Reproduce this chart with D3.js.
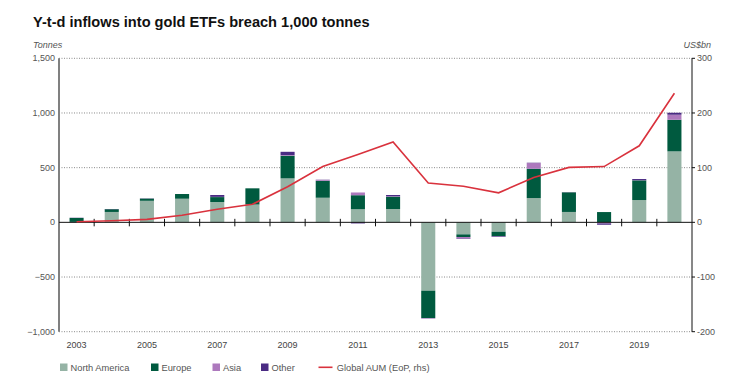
<!DOCTYPE html>
<html>
<head>
<meta charset="utf-8">
<style>
    body {
        margin: 0;
        background: #fff;
        font-family: "Liberation Sans", Arial, sans-serif;
    }
    svg {
        display: block;
    }
    .title {
        font-size: 14.6px;
        font-weight: bold;
        fill: #111;
    }
    .unit {
        font-size: 9px;
        font-style: italic;
        fill: #555;
    }
    .tick-label {
        font-size: 9px;
        fill: #555;
    }
    .year-label {
        font-size: 9px;
        fill: #444;
        text-anchor: middle;
    }
    .grid {
        stroke: #8a8a8a;
        stroke-width: 1;
        stroke-dasharray: 1,1.5;
    }
    .legend-label {
        font-size: 9.3px;
        fill: #555;
    }
</style>
</head>
<body>
<script src="https://cdn.jsdelivr.net/npm/d3@7"></script>
<script>

    // tonnes, by region
    var years = [2003, 2004, 2005, 2006, 2007, 2008, 2009, 2010, 2011,
                 2012, 2013, 2014, 2015, 2016, 2017, 2018, 2019, 2020];
    var northAmerica = [4, 95, 197, 216, 186, 163, 402, 225, 120,
                        122, -625, -110, -86, 222, 95, 2, 204, 649];
    var europe = [36, 25, 20, 43, 45, 148, 207, 155, 128,
                  112, -250, -24, -40, 268, 180, 92, 180, 289];
    var asia = [0, 0, 0, 0, 2, 0, 6, 8, 25,
                4, -3, -14, -3, 52, 2, -10, 2, 46];
    var other = [2, 2, 2, 0, 17, 0, 30, 2, -10,
                 12, -2, -4, -5, 3, 0, -12, 10, 18];
    // US$bn, end of period
    var globalAum = [1, 3, 5.5, 13, 24, 33, 65, 102, 124,
                     147, 72, 66, 54, 82, 100.5, 102, 140, 236];

    var leftTicks = [-1000, -500, 0, 500, 1000, 1500];
    var rightTicks = [-200, -100, 0, 100, 200, 300];
    var yearLabels = [2003, 2005, 2007, 2009, 2011, 2013, 2015, 2017, 2019];

    var seriesNames = ["North America", "Europe", "Asia", "Other"];
    var seriesColors = ["#95b3a5", "#005a3f", "#ad79bd", "#4a2b83"];
    var lineColor = "#d9323d";

    var width = 750,
        height = 376,
        plotLeft = 59,
        plotRight = 692,
        plotTop = 58.3,
        plotBottom = 331.7;

    var rows = years.map(function(y, i) {
        return {year: y, "North America": northAmerica[i], "Europe": europe[i],
                "Asia": asia[i], "Other": other[i]};
    });

    var x = d3.scaleBand()
        .domain(years)
        .range([plotLeft, plotRight])
        .paddingInner(0.6)
        .paddingOuter(0.3);

    var yLeft = d3.scaleLinear()
        .domain([-1000, 1500])
        .range([plotBottom, plotTop]);

    var yRight = d3.scaleLinear()
        .domain([-200, 300])
        .range([plotBottom, plotTop]);

    var svg = d3.select("body").append("svg")
        .attr("width", width)
        .attr("height", height);

    svg.append("text")
        .attr("class", "title")
        .attr("x", 33)
        .attr("y", 26.5)
        .text("Y-t-d inflows into gold ETFs breach 1,000 tonnes");

    svg.append("text")
        .attr("class", "unit")
        .attr("x", 33)
        .attr("y", 48)
        .text("Tonnes");

    svg.append("text")
        .attr("class", "unit")
        .attr("x", 711)
        .attr("y", 48)
        .attr("text-anchor", "end")
        .text("US$bn");

    // dotted gridlines
    svg.append("g").selectAll("line")
        .data(leftTicks.filter(function(d) {return d !== 0}))
      .enter().append("line")
        .attr("class", "grid")
        .attr("x1", plotLeft)
        .attr("x2", plotRight)
        .attr("y1", function(d) {return yLeft(d)})
        .attr("y2", function(d) {return yLeft(d)});

    // stacked bars
    var stack = d3.stack()
        .keys(seriesNames)
        .offset(d3.stackOffsetDiverging);

    var layers = stack(rows);

    svg.append("g").selectAll("g")
        .data(layers)
      .enter().append("g")
        .attr("fill", function(d, i) {return seriesColors[i]})
      .selectAll("rect")
        .data(function(d) {return d})
      .enter().append("rect")
        .attr("x", function(d) {return x(d.data.year)})
        .attr("width", x.bandwidth())
        .attr("y", function(d) {return yLeft(Math.max(d[0], d[1]))})
        .attr("height", function(d) {return Math.abs(yLeft(d[0]) - yLeft(d[1]))});

    // left axis
    svg.append("line")
        .attr("x1", plotLeft).attr("x2", plotLeft)
        .attr("y1", plotTop).attr("y2", plotBottom)
        .attr("stroke", "#808080")
        .attr("stroke-width", 2);

    svg.append("g").selectAll("text")
        .data(leftTicks)
      .enter().append("text")
        .attr("class", "tick-label")
        .attr("x", 55)
        .attr("y", function(d) {return yLeft(d)})
        .attr("dy", "0.35em")
        .attr("text-anchor", "end")
        .text(function(d) {return d3.format(",")(d)});

    // right axis
    svg.append("line")
        .attr("x1", plotRight).attr("x2", plotRight)
        .attr("y1", plotTop).attr("y2", plotBottom)
        .attr("stroke", "#111")
        .attr("stroke-width", 1);

    svg.append("g").selectAll("line")
        .data(rightTicks)
      .enter().append("line")
        .attr("x1", plotRight)
        .attr("x2", plotRight + 3)
        .attr("y1", function(d) {return yRight(d)})
        .attr("y2", function(d) {return yRight(d)})
        .attr("stroke", "#111");

    svg.append("g").selectAll("text")
        .data(rightTicks)
      .enter().append("text")
        .attr("class", "tick-label")
        .attr("x", 697)
        .attr("y", function(d) {return yRight(d)})
        .attr("dy", "0.35em")
        .text(function(d) {return d});

    // zero line with ticks between years
    svg.append("line")
        .attr("x1", plotLeft).attr("x2", plotRight)
        .attr("y1", yLeft(0)).attr("y2", yLeft(0))
        .attr("stroke", "#111")
        .attr("stroke-width", 1);

    var step = x.step();
    svg.append("g").selectAll("line")
        .data(years.slice(0, -1))
      .enter().append("line")
        .attr("x1", function(d) {return x(d) + x.bandwidth() / 2 + step / 2})
        .attr("x2", function(d) {return x(d) + x.bandwidth() / 2 + step / 2})
        .attr("y1", yLeft(0) - 3.5)
        .attr("y2", yLeft(0) + 4)
        .attr("stroke", "#111")
        .attr("stroke-width", 1);

    svg.append("g").selectAll("text")
        .data(yearLabels)
      .enter().append("text")
        .attr("class", "year-label")
        .attr("x", function(d) {return x(d) + x.bandwidth() / 2})
        .attr("y", 347.5)
        .text(function(d) {return d});

    // Global AUM line (rhs)
    var line = d3.line()
        .x(function(d, i) {return x(years[i]) + x.bandwidth() / 2})
        .y(function(d) {return yRight(d)});

    svg.append("path")
        .datum(globalAum)
        .attr("d", line)
        .attr("fill", "none")
        .attr("stroke", lineColor)
        .attr("stroke-width", 1.6);

    // legend
    var legendX = [60, 151, 212.5, 261];
    var legendY = 367.3;

    var legend = svg.append("g");

    legend.selectAll("rect")
        .data(seriesNames)
      .enter().append("rect")
        .attr("x", function(d, i) {return legendX[i]})
        .attr("y", legendY - 3.8)
        .attr("width", 7.5)
        .attr("height", 7.5)
        .attr("fill", function(d, i) {return seriesColors[i]});

    legend.selectAll("text")
        .data(seriesNames)
      .enter().append("text")
        .attr("class", "legend-label")
        .attr("x", function(d, i) {return legendX[i] + 10.5})
        .attr("y", legendY)
        .attr("dy", "0.35em")
        .text(function(d) {return d});

    legend.append("line")
        .attr("x1", 318.5).attr("x2", 332.5)
        .attr("y1", legendY).attr("y2", legendY)
        .attr("stroke", lineColor)
        .attr("stroke-width", 1.6);

    legend.append("text")
        .attr("class", "legend-label")
        .attr("x", 336.7)
        .attr("y", legendY)
        .attr("dy", "0.35em")
        .text("Global AUM (EoP, rhs)");
</script>
</body>
</html>
